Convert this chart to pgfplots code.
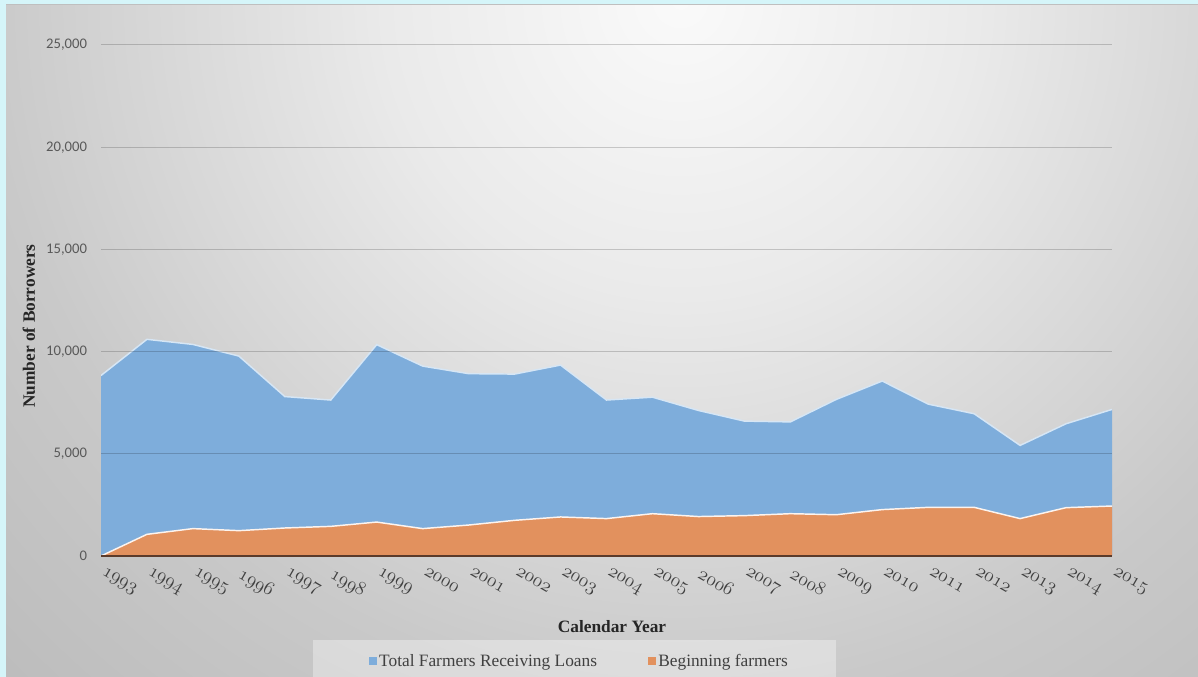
\documentclass[border=0pt]{standalone}
\usepackage{pgfplots}
\pgfplotsset{compat=1.18}
\usepackage{pgfplotstable}
\usepackage{fontspec}
\setmainfont{Liberation Serif}
\newfontfamily\carlito{Carlito}
\newcommand\osnfont{\fontencoding{OML}\fontfamily{cmm}\fontseries{m}\fontshape{it}\fontsize{14.4}{14.4}\selectfont}
\definecolor{cyanbg}{HTML}{D5F5F9}
\definecolor{blueA}{HTML}{7EADDB}
\definecolor{blueline}{HTML}{D6E6F5}
\definecolor{orangeA}{HTML}{E2915E}
\definecolor{axisbrown}{HTML}{5B3B2B}
\definecolor{tickgray}{HTML}{595959}
\definecolor{bg0}{HTML}{FAFAFA}
\definecolor{bg1}{HTML}{EAEAEA}
\definecolor{bg2}{HTML}{C9C9C9}
\definecolor{bg3}{HTML}{BBBBBB}
\pgfdeclareradialshading{bgshade}{\pgfpoint{0bp}{0bp}}{color(0bp)=(bg0); color(7.4bp)=(bg1); color(17.4bp)=(bg2); color(24.8bp)=(bg3); color(50bp)=(bg3)}

\pgfplotstableread{
year total begin
1993 8830 0
1994 10600 1060
1995 10350 1340
1996 9780 1240
1997 7800 1370
1998 7630 1450
1999 10340 1660
2000 9290 1340
2001 8920 1515
2002 8900 1745
2003 9340 1910
2004 7630 1830
2005 7770 2070
2006 7120 1930
2007 6600 1975
2008 6560 2070
2009 7660 2020
2010 8560 2270
2011 7430 2380
2012 6960 2380
2013 5410 1830
2014 6470 2365
2015 7170 2445
}\data

\begin{document}
\begin{tikzpicture}[x=0.75pt,y=0.75pt]
\useasboundingbox (0,0) rectangle (1198,677);
\begin{scope}
\clip (0,0) rectangle (1198,677);
\shade[shading=bgshade] (-320,-323) rectangle (1680,1677);
\end{scope}
\fill[cyanbg] (0,672) rectangle (1198,677);
\fill[cyanbg] (0,0) rectangle (6,677);
\draw[black!25, line width=0.75pt] (6,672) -- (1198,672);
\fill[white, opacity=0.35] (313,0) rectangle (836,37);

\begin{axis}[
  at={(75.75pt,90.75pt)}, anchor=south west,
  scale only axis, width=758.25pt, height=383.25pt,
  xmin=1993, xmax=2015, ymin=0, ymax=25000,
  scaled y ticks=false,
  xtick={1993,1994,1995,1996,1997,1998,1999,2000,2001,2002,2003,2004,2005,2006,2007,2008,2009,2010,2011,2012,2013,2014,2015},
  xticklabels={1993,1994,1995,1996,1997,1998,1999,2000,2001,2002,2003,2004,2005,2006,2007,2008,2009,2010,2011,2012,2013,2014,2015},
  xticklabel style={font=\osnfont, text=black!75, inner sep=0pt, xshift=3.5pt, yshift=-8pt, rotate=-30, anchor=north west},
  ytick={0,5000,10000,15000,20000,25000},
  yticklabels={0,{5,000},{10,000},{15,000},{20,000},{25,000}},
  yticklabel style={font=\carlito\fontsize{11}{11}\selectfont, text=tickgray, xshift=-7pt},
  major tick length=0pt,
  ymajorgrids, grid style={black, opacity=0.18, line width=0.75pt},
  axis lines*=left,
  x axis line style={-, axisbrown, line width=1.6pt},
  y axis line style={draw=none},
  axis on top,
  legend image code/.code={\fill[#1] (0pt,-3pt) rectangle (6pt,3pt);},
  legend style={at={(0.4733,-0.2055)}, anchor=center, draw=none, fill=none,
    font=\fontsize{13}{13}\selectfont, text=black!75,
    /tikz/every even column/.append style={column sep=36pt}},
  legend columns=2,
  legend cell align=left,
]
\addplot[fill=blueA, draw=none] table[x=year,y=total]{\data} \closedcycle;
\addlegendentry{Total Farmers Receiving Loans}
\addplot[forget plot, draw=blueline, line width=1.1pt] table[x=year,y=total]{\data};
\addplot[fill=orangeA, draw=none] table[x=year,y=begin]{\data} \closedcycle;
\addlegendentry{Beginning farmers}
\addplot[forget plot, draw=white!90!orangeA, line width=1.1pt] table[x=year,y=begin]{\data};
\end{axis}

\node[font=\bfseries\fontsize{13}{13}\selectfont, text=black!85] at (612,50) {Calendar Year};
\node[font=\bfseries\fontsize{13}{13}\selectfont, text=black!85, rotate=90] at (29,351) {Number of Borrowers};
\end{tikzpicture}
\end{document}
